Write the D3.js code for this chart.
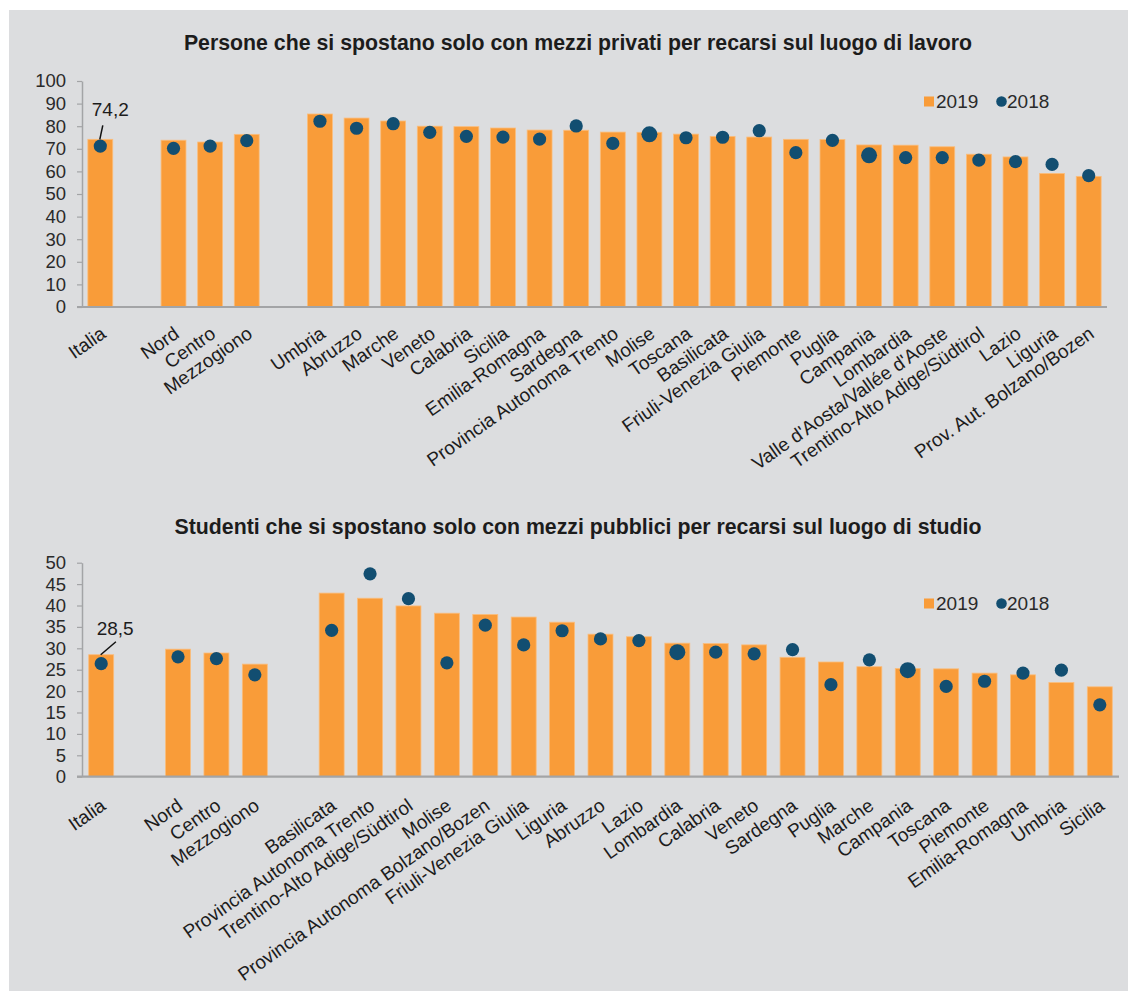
<!DOCTYPE html>
<html>
<head>
<meta charset="utf-8">
<script src="https://cdn.jsdelivr.net/npm/d3@7"></script>
<style>
    body { margin: 0; background: #fff; }
    svg { display: block; font-family: "Liberation Sans", Arial, sans-serif; }
</style>
</head>
<body>
<svg id="chart" width="1128" height="991"></svg>
<script>
// Data, top panel (lavoro)
const workTitle = "Persone che si spostano solo con mezzi privati per recarsi sul luogo di lavoro"
const workLabels = ["Italia", "", "Nord", "Centro", "Mezzogiono", "",
    "Umbria", "Abruzzo", "Marche", "Veneto", "Calabria", "Sicilia", "Emilia-Romagna", "Sardegna",
    "Provincia Autonoma Trento", "Molise", "Toscana", "Basilicata", "Friuli-Venezia Giulia", "Piemonte",
    "Puglia", "Campania", "Lombardia", "Valle d'Aosta/Vallée d'Aoste", "Trentino-Alto Adige/Südtirol",
    "Lazio", "Liguria", "Prov. Aut. Bolzano/Bozen"]
const work2019 = [74.2, null, 73.8, 73.0, 76.4, null,
    85.4, 83.6, 82.3, 80.0, 79.8, 79.2, 78.3, 78.2,
    77.4, 77.3, 76.5, 75.5, 75.2, 74.2,
    74.1, 71.7, 71.6, 70.9, 67.6,
    66.4, 59.1, 57.8]
const work2018 = [71.2, null, 70.2, 71.2, 73.6, null,
    82.2, 79.1, 81.1, 77.3, 75.5, 75.2, 74.3, 80.1,
    72.4, 76.4, 74.9, 75.1, 78.0, 68.3,
    73.7, 67.1, 66.1, 66.1, 65.0,
    64.3, 63.1, 58.1]
const workTicks = d3.range(0, 101, 10)

// Data, bottom panel (studio)
const studyTitle = "Studenti che si spostano solo con mezzi pubblici per recarsi sul luogo di studio"
const studyLabels = ["Italia", "", "Nord", "Centro", "Mezzogiono", "",
    "Basilicata", "Provincia Autonoma Trento", "Trentino-Alto Adige/Südtirol", "Molise",
    "Provincia Autonoma Bolzano/Bozen", "Friuli-Venezia Giulia", "Liguria", "Abruzzo", "Lazio",
    "Lombardia", "Calabria", "Veneto", "Sardegna", "Puglia", "Marche", "Campania", "Toscana",
    "Piemonte", "Emilia-Romagna", "Umbria", "Sicilia"]
const study2019 = [28.5, null, 29.8, 28.9, 26.3, null,
    42.9, 41.7, 39.9, 38.2,
    37.9, 37.3, 36.1, 33.3, 32.7,
    31.2, 31.1, 30.8, 27.9, 26.8, 25.7, 25.3, 25.2,
    24.2, 23.8, 22.0, 21.0]
const study2018 = [26.4, null, 28.0, 27.6, 23.8, null,
    34.2, 47.4, 41.6, 26.6,
    35.4, 30.8, 34.1, 32.2, 31.8,
    29.1, 29.1, 28.7, 29.7, 21.5, 27.3, 24.9, 21.1,
    22.3, 24.2, 24.9, 16.8]
const studyTicks = d3.range(0, 51, 5)

const seriesNames = ["2019", "2018"]

// Colours
const barColor = "#f99c39"
const barEdge = "#fbbd7c"
const dotColor = "#124e71"
const axisColor = "#a3a4a6"
const textColor = "#1c1c1c"

const svg = d3.select("#chart")

svg.append("rect")
    .attr("x", 9).attr("y", 10)
    .attr("width", 1128 - 9).attr("height", 991 - 10)
    .attr("fill", "#dcdddf")

function renderPanel(cfg) {
    const g = svg.append("g")
    const n = cfg.labels.length

    const x = d3.scaleBand()
        .domain(d3.range(n))
        .range([82, cfg.right])
        .paddingInner(cfg.pad)
        .paddingOuter(cfg.pad / 2)
    const y = d3.scaleLinear()
        .domain([0, cfg.max])
        .range([cfg.bottom, cfg.top])
    const cx = i => x(i) + x.bandwidth() / 2

    // title
    g.append("text")
        .attr("x", 578).attr("y", cfg.titleY)
        .attr("text-anchor", "middle")
        .attr("font-size", 21.3).attr("font-weight", "bold")
        .attr("fill", textColor)
        .text(cfg.title)

    // y axis
    const yAxis = g.append("g")
        .attr("transform", "translate(82,0)")
        .call(d3.axisLeft(y).tickValues(cfg.ticks).tickSize(5).tickSizeOuter(0).tickPadding(11))
    yAxis.select(".domain").attr("stroke", axisColor).attr("stroke-width", 1.5)
    yAxis.selectAll(".tick line").attr("stroke", axisColor).attr("stroke-width", 1.2)
    yAxis.selectAll(".tick text")
        .attr("font-size", 18.5).attr("fill", "#2a2a2a")
        .attr("font-family", "Liberation Sans, Arial, sans-serif")

    const idx = d3.range(n).filter(i => cfg.bars[i] != null)

    // bars 2019
    g.append("g")
        .selectAll("rect")
        .data(idx)
        .join("rect")
        .attr("x", i => x(i))
        .attr("y", i => y(cfg.bars[i]))
        .attr("width", x.bandwidth())
        .attr("height", i => y(0) - y(cfg.bars[i]))
        .attr("fill", barColor)
        .attr("stroke", barEdge)
        .attr("stroke-width", 0.8)

    // x axis line
    g.append("line")
        .attr("x1", 77).attr("x2", cfg.right)
        .attr("y1", y(0)).attr("y2", y(0))
        .attr("stroke", axisColor).attr("stroke-width", 2.2)

    // dots 2018
    g.append("g")
        .selectAll("circle")
        .data(idx)
        .join("circle")
        .attr("cx", cx)
        .attr("cy", i => y(cfg.dots[i]))
        .attr("r", i => cfg.bigDots.includes(cfg.labels[i]) ? 8 : 6.6)
        .attr("fill", dotColor)

    // category labels, rotated, ending near the bar centre
    g.append("g")
        .selectAll("text")
        .data(idx)
        .join("text")
        .attr("transform", i => `translate(${cx(i) + cfg.labelDx},${cfg.labelY}) rotate(-35)`)
        .attr("text-anchor", "end")
        .attr("dy", "0.35em")
        .attr("font-size", 19)
        .attr("fill", textColor)
        .text(i => cfg.labels[i])

    // value callout for Italia
    const v0 = cfg.bars[0]
    g.append("text")
        .attr("x", cx(0) + cfg.callout[0])
        .attr("y", y(v0) + cfg.callout[1])
        .attr("text-anchor", "middle")
        .attr("font-size", 19)
        .attr("fill", textColor)
        .text(d3.format(".1f")(v0).replace(".", ","))
    g.append("line")
        .attr("x1", cx(0) + cfg.leader[0]).attr("y1", y(v0) + cfg.leader[1])
        .attr("x2", cx(0) - 0.5).attr("y2", y(v0))
        .attr("stroke", "#111").attr("stroke-width", 1.5)

    // legend
    const lg = g.append("g").attr("transform", `translate(0,${cfg.legendY})`)
    lg.append("rect")
        .attr("x", 924).attr("y", -5)
        .attr("width", 10).attr("height", 10)
        .attr("fill", barColor)
    lg.append("text")
        .attr("x", 936).attr("dy", "0.36em")
        .attr("font-size", 19).attr("fill", "#2a2a2a")
        .text(seriesNames[0])
    lg.append("circle")
        .attr("cx", 1001.5).attr("cy", 0).attr("r", 5.3)
        .attr("fill", dotColor)
    lg.append("text")
        .attr("x", 1007).attr("dy", "0.36em")
        .attr("font-size", 19).attr("fill", "#2a2a2a")
        .text(seriesNames[1])
}

renderPanel({
    title: workTitle, labels: workLabels, bars: work2019, dots: work2018, ticks: workTicks,
    max: 100, top: 81, bottom: 307, right: 1107, pad: 0.32,
    titleY: 50, labelY: 331, labelDx: 3, legendY: 101.5,
    callout: [10, -23], leader: [2.5, -14],
    bigDots: ["Molise", "Campania"]
})

renderPanel({
    title: studyTitle, labels: studyLabels, bars: study2019, dots: study2018, ticks: studyTicks,
    max: 50, top: 562.7, bottom: 776.7, right: 1119, pad: 0.35,
    titleY: 534, labelY: 803, labelDx: 2, legendY: 603.5,
    callout: [14, -20], leader: [14.7, -13],
    bigDots: ["Lombardia", "Campania"]
})
</script>
</body>
</html>
